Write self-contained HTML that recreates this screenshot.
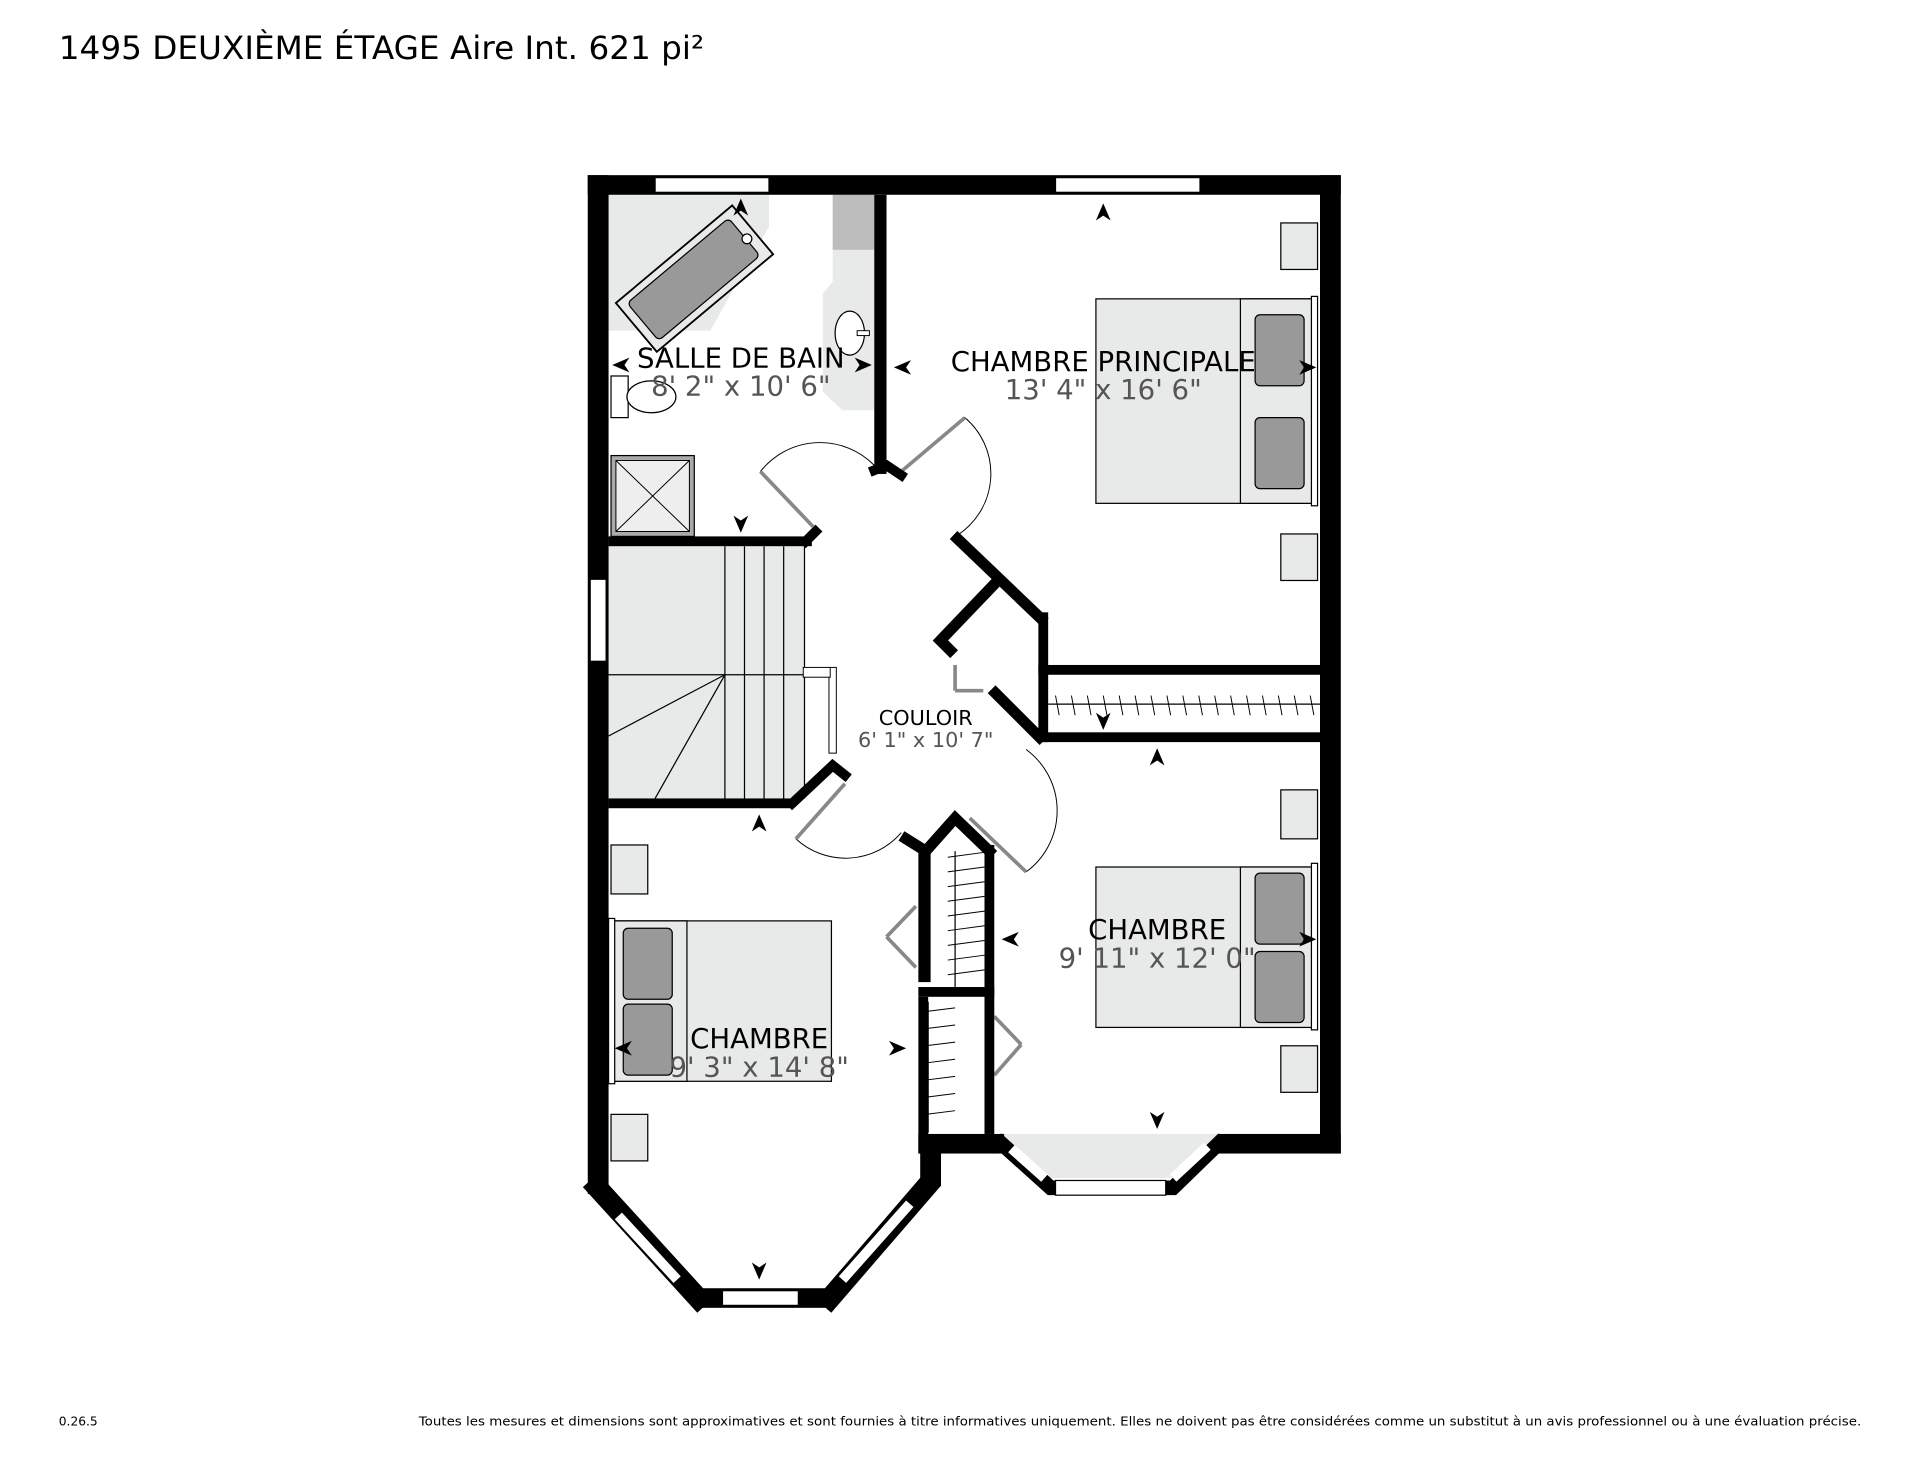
<!DOCTYPE html>
<html><head><meta charset="utf-8"><style>
html,body{margin:0;padding:0;background:#fff;}
svg{display:block;}
text{font-family:"DejaVu Sans","Liberation Sans",sans-serif;}
</style></head><body>
<svg width="1920" height="1483" viewBox="0 0 1568 1211" xmlns="http://www.w3.org/2000/svg">
<rect width="1568" height="1211" fill="#fff"/>
<text x="48" y="48" font-size="26.5" fill="#000" textLength="527" lengthAdjust="spacingAndGlyphs">1495 DEUXIÈME ÉTAGE Aire Int. 621 pi²</text>
<text x="48" y="1164" font-size="10" fill="#000">0.26.5</text>
<text x="1520" y="1164" font-size="10" fill="#000" text-anchor="end" textLength="1178" lengthAdjust="spacingAndGlyphs">Toutes les mesures et dimensions sont approximatives et sont fournies à titre informatives uniquement. Elles ne doivent pas être considérées comme un substitut à un avis professionnel ou à une évaluation précise.</text>

<polygon points="497,159 628,159 628,185 580,270 497,270" fill="#e8e9e9"/>
<rect x="680" y="159" width="34" height="45" fill="#bcbcbc"/>
<polygon points="680,204 714,204 714,335 688,335 672,320 672,240 680,230" fill="#e8e9e9"/>
<rect x="497" y="446" width="160" height="206" fill="#e8e9e9"/>
<polygon points="818,926 995,926 958,962 858,962" fill="#e8e9e9"/>

<g transform="rotate(-40 565 228)">
<rect x="505" y="203" width="124" height="52" fill="#e8e9e9" stroke="#000" stroke-width="1.5"/>
<rect x="512" y="209" width="108" height="40" rx="4" fill="#999" stroke="#000" stroke-width="1"/>
</g>
<circle cx="610" cy="195" r="4" fill="#fff" stroke="#000"/>
<ellipse cx="694" cy="272" rx="12" ry="18" fill="#fff" stroke="#000"/>
<rect x="700" y="270" width="10" height="4" fill="#fff" stroke="#000" stroke-width="0.8"/>
<rect x="499" y="307" width="14" height="34" fill="#fff" stroke="#000"/>
<ellipse cx="532" cy="324" rx="20" ry="13" fill="#fff" stroke="#000"/>
<rect x="499" y="372" width="68" height="66" fill="#aaa" stroke="#000"/>
<rect x="503" y="376" width="60" height="58" fill="#eee" stroke="#000" stroke-width="0.8"/>
<line x1="503" y1="376" x2="563" y2="434" stroke="#000" stroke-width="0.8"/><line x1="563" y1="376" x2="503" y2="434" stroke="#000" stroke-width="0.8"/>

<g stroke="#000" stroke-width="1" fill="none">
<line x1="497" y1="551" x2="657" y2="551"/>
<line x1="592" y1="446" x2="592" y2="652"/>
<line x1="608" y1="446" x2="608" y2="652"/><line x1="624" y1="446" x2="624" y2="652"/><line x1="640" y1="446" x2="640" y2="652"/><line x1="657" y1="446" x2="657" y2="652"/>
<line x1="592" y1="551" x2="497" y2="601"/><line x1="592" y1="551" x2="535" y2="652"/>
</g>
<rect x="677" y="545" width="6" height="70" fill="#fff" stroke="#000" stroke-width="0.8"/>
<rect x="656" y="545" width="22" height="8" fill="#fff" stroke="#000" stroke-width="0.8"/>

<g stroke="#000" stroke-width="1">
<rect x="895" y="244" width="178" height="167" fill="#e8e9e9"/>
<rect x="1013" y="244" width="60" height="167" fill="#e8e9e9"/>
<rect x="1025" y="257" width="40" height="58" rx="4" fill="#999"/>
<rect x="1025" y="341" width="40" height="58" rx="4" fill="#999"/>
<rect x="1071" y="242" width="5" height="171" fill="#fff"/>
<rect x="895" y="708" width="178" height="131" fill="#e8e9e9"/>
<rect x="1013" y="708" width="60" height="131" fill="#e8e9e9"/>
<rect x="1025" y="713" width="40" height="58" rx="4" fill="#999"/>
<rect x="1025" y="777" width="40" height="58" rx="4" fill="#999"/>
<rect x="1071" y="705" width="5" height="136" fill="#fff"/>
<rect x="501" y="752" width="178" height="131" fill="#e8e9e9"/>
<rect x="501" y="752" width="60" height="131" fill="#e8e9e9"/>
<rect x="509" y="758" width="40" height="58" rx="4" fill="#999"/>
<rect x="509" y="820" width="40" height="58" rx="4" fill="#999"/>
<rect x="497" y="750" width="5" height="135" fill="#fff"/>
<rect x="1046" y="182" width="30" height="38" fill="#e8e9e9"/>
<rect x="1046" y="436" width="30" height="38" fill="#e8e9e9"/>
<rect x="1046" y="645" width="30" height="40" fill="#e8e9e9"/>
<rect x="1046" y="854" width="30" height="38" fill="#e8e9e9"/>
<rect x="499" y="690" width="30" height="40" fill="#e8e9e9"/>
<rect x="499" y="910" width="30" height="38" fill="#e8e9e9"/>
</g>

<g stroke="#000" stroke-width="1">
<line x1="856" y1="575" x2="1078" y2="575"/>
<line x1="780" y1="695" x2="780" y2="806"/>
<line x1="758" y1="818" x2="758" y2="925"/>
</g>
<g stroke="#000" stroke-width="0.8">
<path d="M862,568l3,16M875,568l3,16M888,568l3,16M901,568l3,16M914,568l3,16M927,568l3,16M940,568l3,16M953,568l3,16M966,568l3,16M979,568l3,16M992,568l3,16M1005,568l3,16M1018,568l3,16M1031,568l3,16M1044,568l3,16M1057,568l3,16M1070,568l3,16"/>
<path d="M774,700l30,-4M774,712l30,-4M774,724l30,-4M774,736l30,-4M774,748l30,-4M774,760l30,-4M774,772l30,-4M774,784l30,-4M774,796l30,-4"/>
<path d="M756,826l24,-3M756,840l24,-3M756,854l24,-3M756,868l24,-3M756,882l24,-3M756,896l24,-3M756,910l24,-3"/>
</g>

<g fill="none" stroke="#000" stroke-width="0.8">
<path d="M621,385 A62,62 0 0 1 714,380"/>
<path d="M736,385 L788,341 A60,60 0 0 1 782,437"/>
<path d="M650,685 A60,60 0 0 0 736,680"/>
<path d="M838,612 A62,62 0 0 1 838,712"/>
</g>
<g stroke="#888" stroke-width="3">
<line x1="621" y1="385" x2="664" y2="430"/>
<line x1="736" y1="385" x2="788" y2="341"/>
<line x1="650" y1="685" x2="690" y2="640"/>
<line x1="838" y1="712" x2="792" y2="668"/>
<line x1="724" y1="765" x2="748" y2="740"/><line x1="724" y1="765" x2="748" y2="790"/>
<line x1="834" y1="853" x2="812" y2="830"/><line x1="834" y1="853" x2="812" y2="878"/>
<line x1="780" y1="543" x2="780" y2="564"/><line x1="780" y1="564" x2="803" y2="564"/>
<line x1="898" y1="545" x2="1050" y2="545"/>
</g>

<g fill="#000">
<rect x="480" y="143" width="615" height="16"/>
<rect x="480" y="143" width="17" height="832"/>
<rect x="1078" y="143" width="17" height="799"/>
<rect x="714" y="159" width="10" height="228"/>
<rect x="497" y="438" width="166" height="8"/>
<rect x="497" y="652" width="150" height="8"/>
<rect x="848" y="543" width="234" height="8"/>
<rect x="848" y="598" width="234" height="8"/>
<rect x="848" y="500" width="8" height="106"/>
<rect x="1078" y="543" width="5" height="63"/>
<rect x="810" y="926" width="10" height="16"/>
<rect x="995" y="926" width="100" height="16"/>
<rect x="750" y="690" width="10" height="112"/>
<rect x="750" y="806" width="62" height="8"/>
<rect x="804" y="690" width="8" height="236"/>
<rect x="750" y="814" width="8" height="128"/>
<rect x="750" y="926" width="62" height="16"/>
<rect x="570" y="1052" width="110" height="16"/>
</g>
<g stroke="#000" fill="none" stroke-linecap="square">
<path d="M658,442 L666,434" stroke-width="8"/>
<path d="M714,384 L724,380 L736,388" stroke-width="8"/>
<path d="M782,440 L850,505" stroke-width="9"/>
<path d="M776,531 L768,523 L813,476" stroke-width="9"/>
<path d="M813,566 L849,602" stroke-width="9"/>
<path d="M647,656 L680,625 L690,633" stroke-width="8"/>
<path d="M740,685 L756,695 L780,668 L808,695" stroke-width="9"/>
<path d="M488,970 L570,1060" stroke-width="17"/>
<path d="M678,1060 L760,965 L760,935" stroke-width="17"/>
<path d="M818,934 L858,970 L958,970 L995,934" stroke-width="12"/>
</g>
<g fill="#fff" stroke="#000" stroke-width="1">
<rect x="535" y="145" width="93" height="12"/>
<rect x="862" y="145" width="118" height="12"/>
<rect x="482" y="473" width="13" height="67"/>
<rect x="590" y="1054" width="62" height="12"/>
<rect x="862" y="964" width="90" height="12"/>
</g>
<g stroke="#fff" stroke-width="8"><line x1="505" y1="993" x2="553" y2="1045"/><line x1="688" y1="1045" x2="743" y2="983"/><line x1="826" y1="938" x2="853" y2="962"/><line x1="958" y1="962" x2="986" y2="936"/></g>

<g fill="#000">
<path d="M605,162 l6,14 l-6,-4 l-6,4z"/>
<path d="M901,166 l6,14 l-6,-4 l-6,4z"/>
<path d="M945,611 l6,14 l-6,-4 l-6,4z"/>
<path d="M620,665 l6,14 l-6,-4 l-6,4z"/>
<path d="M605,435 l6,-14 l-6,4 l-6,-4z"/>
<path d="M901,596 l6,-14 l-6,4 l-6,-4z"/>
<path d="M945,922 l6,-14 l-6,4 l-6,-4z"/>
<path d="M620,1045 l6,-14 l-6,4 l-6,-4z"/>
<path d="M500,298 l14,-6 l-4,6 l4,6z"/>
<path d="M712,298 l-14,-6 l4,6 l-4,6z"/>
<path d="M730,300 l14,-6 l-4,6 l4,6z"/>
<path d="M1075,300 l-14,-6 l4,6 l-4,6z"/>
<path d="M1075,767 l-14,-6 l4,6 l-4,6z"/>
<path d="M818,767 l14,-6 l-4,6 l4,6z"/>
<path d="M502,856 l14,-6 l-4,6 l4,6z"/>
<path d="M740,856 l-14,-6 l4,6 l-4,6z"/>
</g>

<g text-anchor="middle" font-size="22.5">
<text x="605" y="300" fill="#000">SALLE DE BAIN</text>
<text x="605" y="323" fill="#555">8' 2" x 10' 6"</text>
<text x="901" y="303" fill="#000">CHAMBRE PRINCIPALE</text>
<text x="901" y="326" fill="#555">13' 4" x 16' 6"</text>
<text x="945" y="767" fill="#000">CHAMBRE</text>
<text x="945" y="790" fill="#555">9' 11" x 12' 0"</text>
<text x="620" y="856" fill="#000">CHAMBRE</text>
<text x="620" y="879" fill="#555">9' 3" x 14' 8"</text>
</g>
<g text-anchor="middle" font-size="17">
<text x="756" y="592" fill="#000">COULOIR</text>
<text x="756" y="610" fill="#555">6' 1" x 10' 7"</text>
</g>
</svg>
</body></html>
